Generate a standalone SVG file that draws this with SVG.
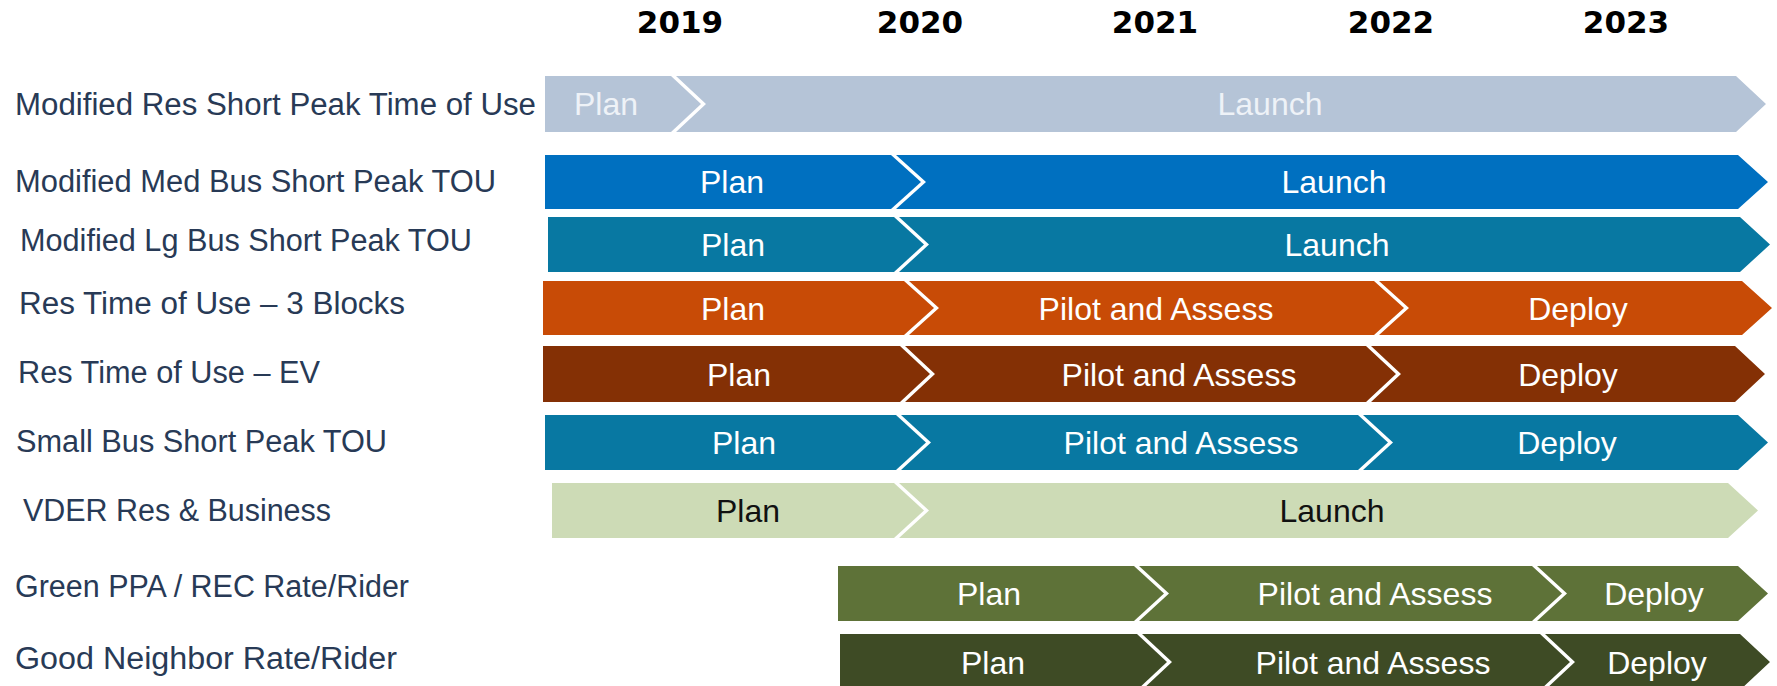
<svg xmlns="http://www.w3.org/2000/svg" width="1777" height="686" viewBox="0 0 1777 686">
<style>
.yr{font-family:"DejaVu Sans",sans-serif;font-weight:bold;font-size:31px;fill:#000;text-anchor:middle}
.lbl{font-family:"Liberation Sans",Arial,sans-serif;font-size:31px;fill:#283a56}
.bt{font-family:"Liberation Sans",Arial,sans-serif;font-size:32px;fill:#fff;text-anchor:middle}
.dk{fill:#111}
.lt{fill:#eef2f7}
.c1{fill:#b5c4d7}.c2{fill:#0070c0}.c3{fill:#0878a2}.c4{fill:#c84b06}.c5{fill:#843005}.c7{fill:#cddbb6}.c8{fill:#5e7238}.c9{fill:#3e4b25}
</style>
<rect width="1777" height="686" fill="#fff"/>
<g id="years">
<text class="yr" x="680" y="33">2019</text>
<text class="yr" x="920" y="33">2020</text>
<text class="yr" x="1155" y="33">2021</text>
<text class="yr" x="1391" y="33">2022</text>
<text class="yr" x="1626" y="33">2023</text>
</g>
<g id="connectors"></g>
<g id="row1">
<text class="lbl" x="15" y="115" textLength="521" lengthAdjust="spacingAndGlyphs">Modified Res Short Peak Time of Use</text>
<polygon class="c1" points="545,76 671,76 701,104 671,132 545,132"/>
<polygon class="c1" points="676,76 1736,76 1766,104 1736,132 676,132 706,104"/>
<text class="bt lt" x="606" y="115">Plan</text>
<text class="bt lt" x="1270" y="115">Launch</text>
</g>
<g id="row2">
<text class="lbl" x="15" y="192" textLength="481" lengthAdjust="spacingAndGlyphs">Modified Med Bus Short Peak TOU</text>
<polygon class="c2" points="545,155 891,155 921,182 891,209 545,209"/>
<polygon class="c2" points="896,155 1738,155 1768,182 1738,209 896,209 926,182"/>
<text class="bt" x="732" y="193">Plan</text>
<text class="bt" x="1334" y="193">Launch</text>
</g>
<g id="row3">
<text class="lbl" x="20" y="251" textLength="452" lengthAdjust="spacingAndGlyphs">Modified Lg Bus Short Peak TOU</text>
<polygon class="c3" points="548,217 894,217 924,244.5 894,272 548,272"/>
<polygon class="c3" points="899,217 1740,217 1770,244.5 1740,272 899,272 929,244.5"/>
<text class="bt" x="733" y="256">Plan</text>
<text class="bt" x="1337" y="256">Launch</text>
</g>
<g id="row4">
<text class="lbl" x="19" y="314" textLength="386" lengthAdjust="spacingAndGlyphs">Res Time of Use – 3 Blocks</text>
<polygon class="c4" points="543,281 904,281 934,308 904,335 543,335"/>
<polygon class="c4" points="909,281 1374,281 1404,308 1374,335 909,335 939,308"/>
<polygon class="c4" points="1379,281 1742,281 1772,308 1742,335 1379,335 1409,308"/>
<text class="bt" x="733" y="319.5">Plan</text>
<text class="bt" x="1156" y="319.5">Pilot and Assess</text>
<text class="bt" x="1578" y="319.5">Deploy</text>
</g>
<g id="row5">
<text class="lbl" x="18" y="383" textLength="302" lengthAdjust="spacingAndGlyphs">Res Time of Use – EV</text>
<polygon class="c5" points="543,346 900,346 930,374 900,402 543,402"/>
<polygon class="c5" points="905,346 1366,346 1396,374 1366,402 905,402 935,374"/>
<polygon class="c5" points="1371,346 1735,346 1765,374 1735,402 1371,402 1401,374"/>
<text class="bt" x="739" y="385.5">Plan</text>
<text class="bt" x="1179" y="385.5">Pilot and Assess</text>
<text class="bt" x="1568" y="385.5">Deploy</text>
</g>
<g id="row6">
<text class="lbl" x="16" y="452" textLength="371" lengthAdjust="spacingAndGlyphs">Small Bus Short Peak TOU</text>
<polygon class="c3" points="545,415 896,415 926,442.5 896,470 545,470"/>
<polygon class="c3" points="901,415 1358,415 1388,442.5 1358,470 901,470 931,442.5"/>
<polygon class="c3" points="1363,415 1738,415 1768,442.5 1738,470 1363,470 1393,442.5"/>
<text class="bt" x="744" y="454">Plan</text>
<text class="bt" x="1181" y="454">Pilot and Assess</text>
<text class="bt" x="1567" y="454">Deploy</text>
</g>
<g id="row7">
<text class="lbl" x="23" y="521" textLength="308" lengthAdjust="spacingAndGlyphs">VDER Res &amp; Business</text>
<polygon class="c7" points="552,483 894,483 924,510.5 894,538 552,538"/>
<polygon class="c7" points="899,483 1728,483 1758,510.5 1728,538 899,538 929,510.5"/>
<text class="bt dk" x="748" y="522">Plan</text>
<text class="bt dk" x="1332" y="522">Launch</text>
</g>
<g id="row8">
<text class="lbl" x="15" y="597" textLength="394" lengthAdjust="spacingAndGlyphs">Green PPA / REC Rate/Rider</text>
<polygon class="c8" points="838,566 1134,566 1164,593.5 1134,621 838,621"/>
<polygon class="c8" points="1139,566 1532,566 1562,593.5 1532,621 1139,621 1169,593.5"/>
<polygon class="c8" points="1537,566 1738,566 1768,593.5 1738,621 1537,621 1567,593.5"/>
<text class="bt" x="989" y="605">Plan</text>
<text class="bt" x="1375" y="605">Pilot and Assess</text>
<text class="bt" x="1654" y="605">Deploy</text>
</g>
<g id="row9">
<text class="lbl" x="15" y="669" textLength="382" lengthAdjust="spacingAndGlyphs">Good Neighbor Rate/Rider</text>
<polygon class="c9" points="840,634 1137,634 1167,662 1137,690 840,690"/>
<polygon class="c9" points="1142,634 1540,634 1570,662 1540,690 1142,690 1172,662"/>
<polygon class="c9" points="1545,634 1740,634 1770,662 1740,690 1545,690 1575,662"/>
<text class="bt" x="993" y="673.5">Plan</text>
<text class="bt" x="1373" y="673.5">Pilot and Assess</text>
<text class="bt" x="1657" y="673.5">Deploy</text>
</g>
</svg>
